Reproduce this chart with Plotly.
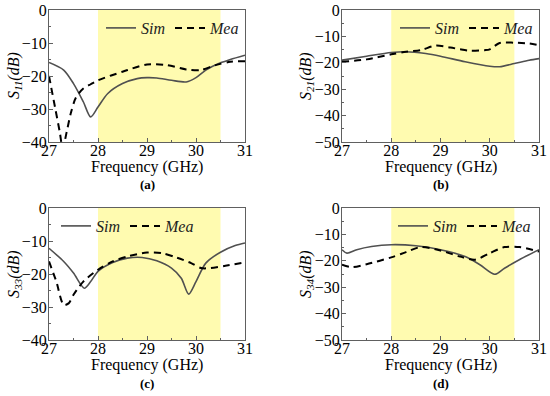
import plotly.graph_objects as go

# ---------------- data ----------------
band_start, band_end = 28.0, 30.5

a_sim_x = [27.0, 27.3, 27.5, 27.7, 27.85, 28.0, 28.2, 28.5, 28.8, 29.0, 29.2, 29.5, 29.8, 30.0, 30.2, 30.5, 30.7, 31.0]
a_sim_y = [-15.9, -18.2, -22.3, -27.8, -32.4, -29.4, -25.3, -22.3, -20.8, -20.5, -20.6, -21.3, -21.8, -20.5, -18.2, -16.0, -15.0, -13.7]
a_mea_x = [27.0, 27.13, 27.22, 27.28, 27.36, 27.45, 27.55, 27.7, 27.85, 28.0, 28.5, 29.0, 29.4, 29.8, 30.1, 30.4, 30.7, 31.0]
a_mea_y = [-20.0, -30.0, -37.0, -42.0, -37.0, -31.0, -26.5, -23.8, -22.5, -21.3, -18.7, -16.5, -16.7, -18.0, -18.2, -16.7, -15.7, -15.5]

b_sim_x = [27.0, 27.5, 28.0, 28.3, 28.7, 29.0, 29.5, 30.0, 30.2, 30.5, 30.8, 31.0]
b_sim_y = [-19.0, -17.5, -16.1, -15.8, -16.5, -17.5, -19.6, -21.3, -21.5, -20.3, -19.0, -18.4]
b_mea_x = [27.0, 27.5, 28.0, 28.3, 28.6, 28.9, 29.2, 29.4, 29.6, 29.9, 30.0, 30.2, 30.5, 30.8, 31.0]
b_mea_y = [-19.6, -18.7, -16.8, -15.8, -15.2, -13.5, -14.2, -14.9, -15.4, -15.2, -14.9, -12.5, -12.4, -12.7, -13.3]

c_sim_x = [27.0, 27.3, 27.5, 27.72, 27.85, 28.0, 28.3, 28.6, 28.9, 29.2, 29.5, 29.7, 29.85, 30.0, 30.2, 30.5, 30.8, 31.0]
c_sim_y = [-12.2, -16.2, -19.7, -24.3, -22.3, -19.2, -16.5, -15.2, -15.0, -16.0, -18.2, -21.3, -26.1, -22.3, -16.7, -13.4, -11.4, -10.6]
c_mea_x = [27.0, 27.15, 27.3, 27.4, 27.5, 27.7, 28.0, 28.3, 28.6, 29.0, 29.3, 29.6, 29.9, 30.1, 30.3, 30.6, 31.0]
c_mea_y = [-16.2, -22.3, -29.4, -28.9, -26.3, -22.3, -18.7, -16.2, -14.7, -13.5, -13.7, -15.0, -16.7, -18.2, -18.2, -17.5, -16.5]

d_sim_x = [27.0, 27.1, 27.3, 27.6, 28.0, 28.5, 29.0, 29.5, 29.8, 30.1, 30.3, 30.6, 31.0]
d_sim_y = [-15.8, -17.1, -15.8, -14.6, -13.9, -14.3, -15.8, -18.4, -21.5, -25.1, -22.8, -19.6, -15.8]
d_mea_x = [27.0, 27.2, 27.5, 28.0, 28.3, 28.6, 29.0, 29.4, 29.7, 30.0, 30.3, 30.6, 31.0]
d_mea_y = [-21.5, -22.4, -21.3, -18.7, -16.7, -14.8, -16.1, -18.4, -19.6, -17.1, -14.8, -14.8, -16.5]

panels = [
    dict(sim=(a_sim_x, a_sim_y), mea=(a_mea_x, a_mea_y), ymin=-40, ylab="S<sub>11</sub>(dB)", tag="(a)"),
    dict(sim=(b_sim_x, b_sim_y), mea=(b_mea_x, b_mea_y), ymin=-50, ylab="S<sub>21</sub>(dB)", tag="(b)"),
    dict(sim=(c_sim_x, c_sim_y), mea=(c_mea_x, c_mea_y), ymin=-40, ylab="S<sub>33</sub>(dB)", tag="(c)"),
    dict(sim=(d_sim_x, d_sim_y), mea=(d_mea_x, d_mea_y), ymin=-50, ylab="S<sub>34</sub>(dB)", tag="(d)"),
]

# ---------------- layout geometry (pixels) ----------------
W, H = 550, 396
FONT = "Liberation Serif, Times New Roman, serif"
xpix = [(49, 245), (342, 539), (49, 245), (342, 539)]
ypix = [(10, 142), (10, 142), (208, 340), (208, 340)]
ytitle_x = [14, 306, 14, 306]
legend_right = [245, 539, 200, 537]

fig = go.Figure()
layout = dict(
    width=W, height=H, margin=dict(l=0, r=0, t=0, b=0, pad=0, autoexpand=False),
    paper_bgcolor="white", plot_bgcolor="white",
    font=dict(family=FONT, size=15, color="black"),
    shapes=[], annotations=[],
)

for i, p in enumerate(panels):
    n = "" if i == 0 else str(i + 1)
    xa, ya = "x" + n, "y" + n
    leg = "legend" if i == 0 else "legend" + str(i + 1)
    fig.add_trace(go.Scatter(x=p["sim"][0], y=p["sim"][1], mode="lines", name="Sim",
                             line=dict(color="#505050", width=1.6, shape="spline", smoothing=0.8),
                             xaxis=xa, yaxis=ya, legend=leg))
    fig.add_trace(go.Scatter(x=p["mea"][0], y=p["mea"][1], mode="lines", name="Mea",
                             line=dict(color="black", width=2, dash="7px,5px", shape="spline", smoothing=0.8),
                             xaxis=xa, yaxis=ya, legend=leg))
    x0, x1 = xpix[i]
    y0, y1 = ypix[i]
    common = dict(showgrid=False, zeroline=False, showline=True, linecolor="#606060", linewidth=1,
                  mirror=True, ticks="inside", tickcolor="#606060", ticklen=4, automargin=False,
                  tickfont=dict(family=FONT, size=16, color="black"))
    layout["xaxis" + n] = dict(common, domain=[x0 / W, x1 / W], range=[27, 31], dtick=1, tick0=27,
                               anchor=ya, ticklabelstandoff=-6,
                               minor=dict(dtick=0.5, ticks="inside", ticklen=2, tickcolor="#606060"))
    layout["yaxis" + n] = dict(common, domain=[1 - y1 / H, 1 - y0 / H], range=[p["ymin"], 0], dtick=10,
                               anchor=xa, ticklabelstandoff=-2,
                               minor=dict(dtick=5, ticks="inside", ticklen=2, tickcolor="#606060"))
    layout["shapes"].append(dict(type="rect", xref=xa, yref=ya + " domain", x0=band_start, x1=band_end,
                                 y0=0, y1=1, fillcolor="#FFFBB0", line=dict(width=0), layer="below"))
    layout[leg] = dict(orientation="h", x=legend_right[i] / W, xanchor="right", y=1 - (y0 + 1) / H,
                       yanchor="top", bgcolor="rgba(0,0,0,0)", borderwidth=0,
                       font=dict(family=FONT, size=16, style="italic", color="#222"),
                       itemwidth=30, tracegroupgap=0)
    cx = (x0 + x1) / 2 / W
    layout["annotations"].append(dict(text="Frequency (GHz)", x=cx, y=1 - (y0 + 157) / H, xref="paper",
                                      yref="paper", showarrow=False, xanchor="center", yanchor="middle",
                                      font=dict(family=FONT, size=16)))
    layout["annotations"].append(dict(text="<b>" + p["tag"] + "</b>", x=cx, y=1 - (y0 + 175) / H,
                                      xref="paper", yref="paper", showarrow=False, xanchor="center",
                                      yanchor="middle", font=dict(family=FONT, size=13)))
    layout["annotations"].append(dict(text="<i>" + p["ylab"] + "</i>", x=ytitle_x[i] / W,
                                      y=1 - (y0 + y1) / 2 / H, xref="paper", yref="paper", showarrow=False,
                                      textangle=-90, xanchor="center", yanchor="middle",
                                      font=dict(family=FONT, size=16)))

fig.update_layout(**layout)
fig.write_html("out.html", config={"displayModeBar": False},
               post_script="document.body.style.margin='0px';document.body.style.padding='0px';")
